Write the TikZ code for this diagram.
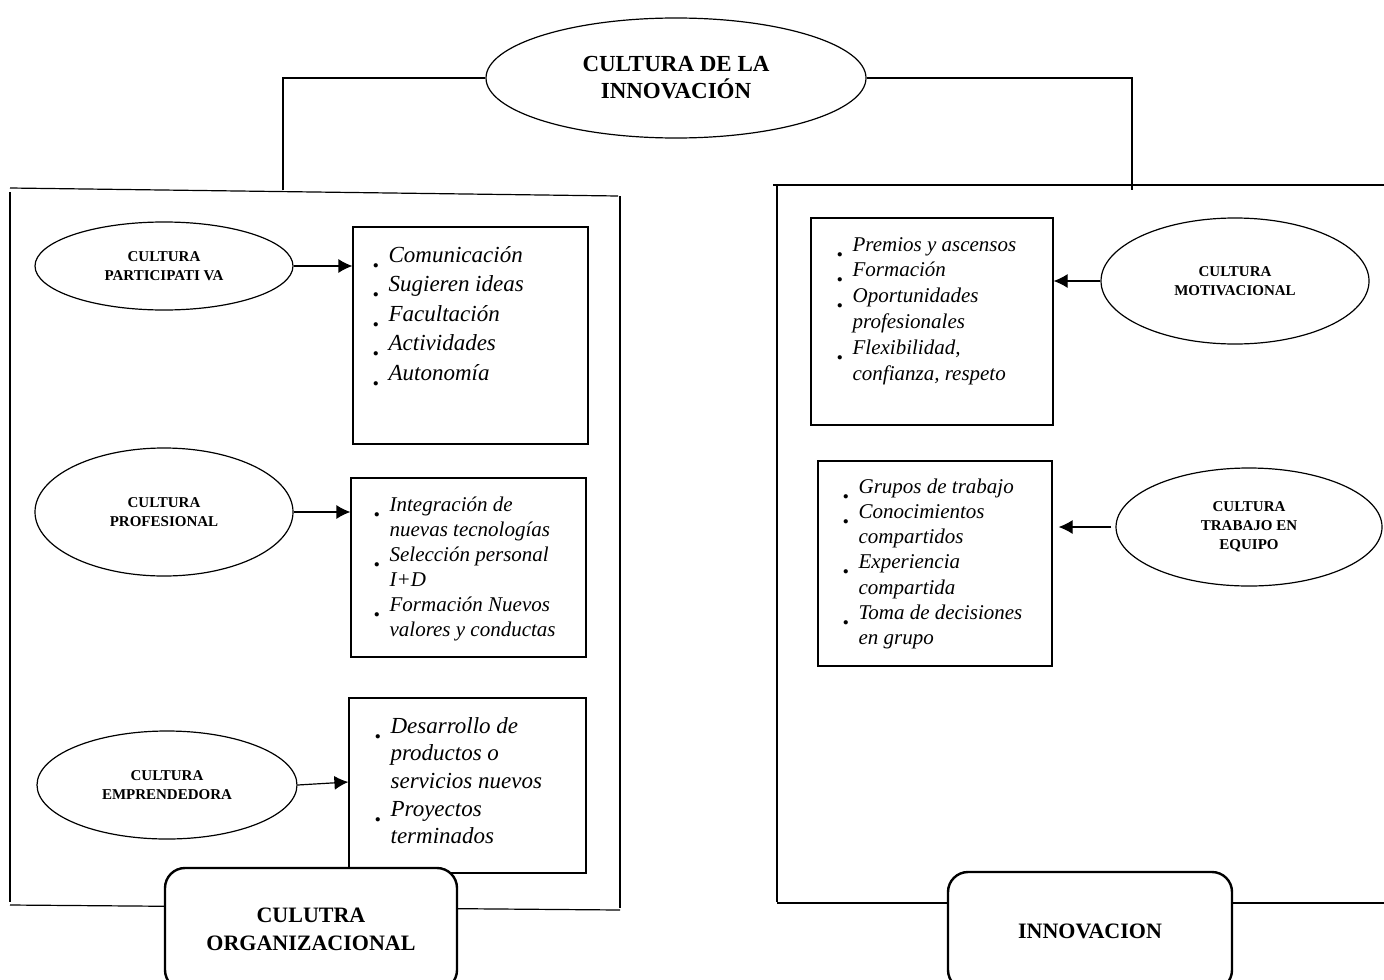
\documentclass[tikz,border=0pt]{standalone}
\usepackage{fontspec}
\setmainfont{Liberation Serif}
\usetikzlibrary{shapes.geometric,calc,arrows.meta}

\newcommand{\itm}{\makebox[8pt][l]{\upshape\bfseries\raisebox{-2.5pt}{\fontsize{13}{13}\selectfont.}}}

\tikzset{
  cult/.style={draw,ellipse,inner sep=0pt,align=center,font=\fontsize{7.5}{9.5}\selectfont\bfseries},
  caja/.style={draw,rectangle,inner sep=0pt},
  lista/.style={anchor=base west,inner sep=0pt},
  final/.style={draw,rectangle,rounded corners=10pt,line width=1.2pt,fill=white,align=center,font=\fontsize{11}{14}\selectfont\bfseries},
  flecha/.style={-{Latex[length=7pt,width=7pt]}}
}

\begin{document}
\begin{tikzpicture}[x=0.5pt,y=-0.5pt,line width=0.6pt]
%\draw[help lines] (0,0) grid[step=100] (1384,979);
\useasboundingbox (0,0) rectangle (1384,979);

\node[cult,minimum width=190pt,minimum height=60pt,font=\fontsize{11.5}{13.5}\selectfont\bfseries] (cdi) at (676,78) {CULTURA DE LA\\INNOVACIÓN};
\coordinate (lt) at (283,190);
\coordinate (rt) at (1132,190);
\draw (cdi.west) -| (lt);
\draw (cdi.east) -| (rt);

% marco izquierdo
\draw (10,188) -- (618,196);
\draw (10,192) -- (10,902);
\draw (620,196) -- (620,908);
\draw (10,905) -- (620,910);

% marco derecho
\draw (773,185) -- (1384,185);
\draw (777,185) -- (777,902);
\draw (777,903) -- (1384,903);

% cultura organizacional
\node[cult,minimum width=129pt,minimum height=44pt] (epar) at (164,266) {CULTURA\\PARTICIPATI VA};
\node[cult,minimum width=129pt,minimum height=64pt] (epro) at (164,512) {CULTURA\\PROFESIONAL};
\node[cult,minimum width=130pt,minimum height=54pt] (eemp) at (167,785) {CULTURA\\EMPRENDEDORA};

\node[caja,minimum width=117.5pt,minimum height=108.5pt] (bpar) at (470.5,335.5) {};
\node[caja,minimum width=117.5pt,minimum height=89.5pt] (bpro) at (468.5,567.5) {};
\node[caja,minimum width=118.5pt,minimum height=87.5pt] (bemp) at (467.5,785.5) {};

\node[lista,font=\fontsize{11.5}{14.75}\selectfont\itshape] (lpar) at (372,262) {\begin{tabular}[t]{@{}l@{}l@{}}
\itm & Comunicación\\
\itm & Sugieren ideas\\
\itm & Facultación\\
\itm & Actividades\\
\itm & Autonomía
\end{tabular}};
\node[lista,font=\fontsize{10.5}{12.5}\selectfont\itshape] (lpro) at (373,511) {\begin{tabular}[t]{@{}l@{}l@{}}
\itm & Integración de\\
 & nuevas tecnologías\\
\itm & Selección personal\\
 & I+D\\
\itm & Formación Nuevos\\
 & valores y conductas
\end{tabular}};
\node[lista,font=\fontsize{11.5}{13.85}\selectfont\itshape] (lemp) at (374,733) {\begin{tabular}[t]{@{}l@{}l@{}}
\itm & Desarrollo de\\
 & productos o\\
 & servicios nuevos\\
\itm & Proyectos\\
 & terminados
\end{tabular}};

\draw[flecha] (epar.east) -- (epar.east -| bpar.west);
\draw[flecha] (epro.east) -- (epro.east -| bpro.west);
\draw[flecha] (eemp.east) -- ($(eemp.east -| bemp.west)+(0,-3)$);

% innovacion
\node[cult,minimum width=134pt,minimum height=63pt] (emot) at (1235,281) {CULTURA\\MOTIVACIONAL};
\node[cult,minimum width=133pt,minimum height=59pt] (etra) at (1249,527) {CULTURA\\TRABAJO EN\\EQUIPO};

\node[caja,minimum width=121pt,minimum height=103.5pt] (bmot) at (932,321.5) {};
\node[caja,minimum width=117pt,minimum height=102.5pt] (btra) at (935,563.5) {};

\node[lista,font=\fontsize{10.5}{12.9}\selectfont\itshape] (lmot) at (836,251) {\begin{tabular}[t]{@{}l@{}l@{}}
\itm & Premios y ascensos\\
\itm & Formación\\
\itm & Oportunidades\\
 & profesionales\\
\itm & Flexibilidad,\\
 & confianza, respeto
\end{tabular}};
\node[lista,font=\fontsize{10.5}{12.65}\selectfont\itshape] (ltra) at (842,493) {\begin{tabular}[t]{@{}l@{}l@{}}
\itm & Grupos de trabajo\\
\itm & Conocimientos\\
 & compartidos\\
\itm & Experiencia\\
 & compartida\\
\itm & Toma de decisiones\\
 & en grupo
\end{tabular}};

\draw[flecha] (emot.west) -- (emot.west -| bmot.east);
\draw[flecha] ([xshift=-2pt]etra.west) -- ([xshift=3pt]etra.west -| btra.east);

% cajas finales
\node[final,minimum width=146pt,minimum height=61pt] (corg) at (311,929) {CULUTRA\\ORGANIZACIONAL};
\node[final,minimum width=142pt,minimum height=59pt] (inno) at (1090,931) {INNOVACION};
\end{tikzpicture}
\end{document}
